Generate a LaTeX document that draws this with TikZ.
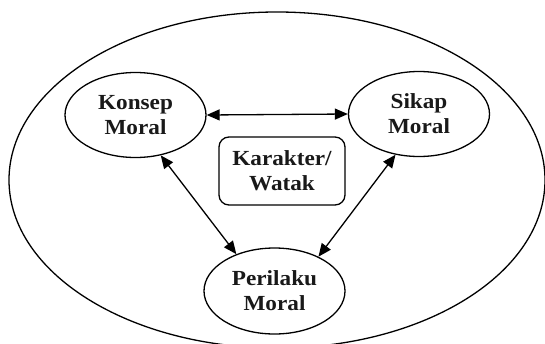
\documentclass[tikz,border=0pt]{standalone}
\usepackage{fontspec}
\setmainfont{Liberation Serif}[FakeStretch=1.08]
\usetikzlibrary{shapes.geometric,arrows.meta}
\begin{document}
\begin{tikzpicture}[x=1pt,y=-1pt,
  lbl/.style={font=\bfseries\fontsize{21.5}{25}\selectfont, align=center, text=black!90},
  oval/.style={ellipse, draw, line width=1.3pt, inner sep=0pt, minimum width=141pt, minimum height=85pt, lbl},
  cbox/.style={rectangle, rounded corners=10pt, draw, line width=1.3pt, inner sep=0pt, minimum width=126pt, minimum height=68pt, lbl},
  link/.style={line width=1.3pt, {Triangle[length=13pt,width=11pt]}-{Triangle[length=13pt,width=11pt]}}]
\useasboundingbox (0,0) rectangle (545,343);
\begin{scope}
\clip (0,0) rectangle (545,343);
\node[ellipse, draw, line width=1.3pt, minimum width=536pt, minimum height=336pt, inner sep=0pt] (outer) at (277,180) {};
\end{scope}
\node[oval] (konsep) at (135.5,115) {Konsep\\Moral};
\node[oval] (sikap) at (419,114) {Sikap\\Moral};
\node[oval, minimum width=141pt, minimum height=86pt] (perilaku) at (274.5,291) {Perilaku\\Moral};
\node[cbox] (karakter) at (282,171) {Karakter/\\Watak};
\draw[link] (konsep.east) -- (sikap.west);
\draw[link] (konsep.-58) -- (perilaku.136);
\draw[link] (sikap.-120) -- (perilaku.38);
\end{tikzpicture}
\end{document}
